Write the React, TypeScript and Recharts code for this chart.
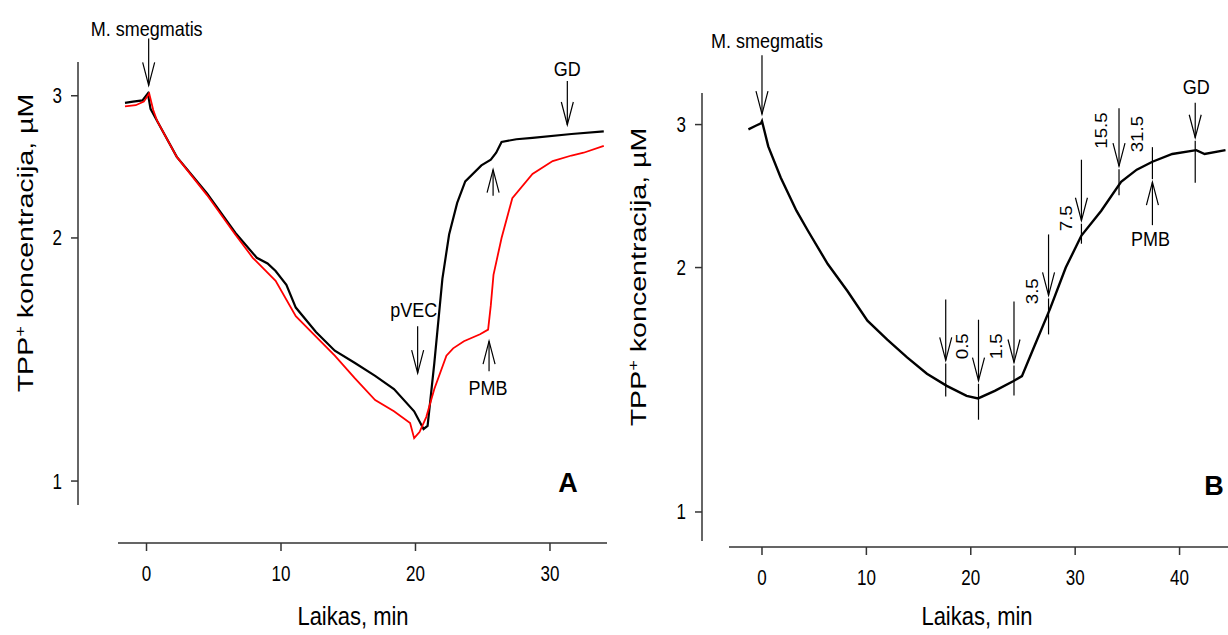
import { LineChart, Line, XAxis, YAxis, ReferenceDot, Label } from 'recharts';

const FONT = '"Liberation Sans", Arial, sans-serif';
const AXIS = '#333';

// A: black (pVEC) and red (pVEC + PMB) traces
const timeBlackA = [-1.6, -1.0, -0.3, 0.1, 0.3, 0.8, 2.25, 4.5, 6.6, 8.2, 9.0, 9.6, 10.4, 11.1, 12.6, 14.0, 15.5, 17.0, 18.4, 19.9, 20.6, 20.9, 21.4, 22.0, 22.5, 23.1, 23.7, 24.9, 25.6, 26.0, 26.4, 27.5, 28.7, 31.6, 34.0];
const concBlackA = [2.94, 2.95, 2.96, 3.02, 2.89, 2.79, 2.52, 2.27, 2.03, 1.89, 1.86, 1.82, 1.75, 1.64, 1.53, 1.45, 1.40, 1.35, 1.30, 1.22, 1.16, 1.17, 1.40, 1.78, 2.02, 2.21, 2.35, 2.46, 2.50, 2.55, 2.63, 2.65, 2.66, 2.69, 2.71];
const timeRedA = [-1.6, -0.8, -0.2, 0.2, 0.5, 0.8, 2.25, 4.5, 6.6, 7.9, 9.6, 11.1, 12.6, 14.0, 15.5, 17.0, 18.4, 19.6, 19.9, 20.3, 20.8, 21.4, 22.3, 22.8, 23.6, 24.8, 25.4, 25.6, 25.8, 26.4, 27.2, 28.7, 30.2, 31.6, 32.5, 34.0];
const concRedA = [2.91, 2.92, 2.95, 3.02, 2.88, 2.79, 2.52, 2.26, 2.02, 1.89, 1.77, 1.60, 1.51, 1.43, 1.34, 1.26, 1.22, 1.18, 1.13, 1.15, 1.20, 1.30, 1.43, 1.46, 1.49, 1.52, 1.54, 1.65, 1.80, 2.00, 2.24, 2.40, 2.49, 2.53, 2.55, 2.60];

// B: stepwise pVEC additions
const timeB = [-1.3, -0.6, -0.1, 0.0, 0.6, 1.8, 3.3, 4.4, 6.3, 8.2, 10.1, 12.0, 13.9, 15.8, 17.7, 19.6, 20.7, 22.3, 24.1, 24.9, 26.0, 27.6, 29.1, 30.6, 32.5, 34.4, 35.9, 37.4, 39.3, 41.6, 42.4, 44.4];
const concB = [2.96, 2.99, 3.01, 3.03, 2.82, 2.58, 2.35, 2.22, 2.02, 1.87, 1.72, 1.63, 1.55, 1.48, 1.43, 1.39, 1.38, 1.41, 1.45, 1.47, 1.59, 1.78, 2.00, 2.19, 2.35, 2.55, 2.64, 2.70, 2.76, 2.79, 2.76, 2.79];

const yTicks = [1, 2, 3];
const xTicksA = [0, 10, 20, 30];
const xTicksB = [0, 10, 20, 30, 40];

type Arrow = { t: number; v: number; dir: 'down' | 'up'; len: number; spike?: number; text?: string; dx?: number; dy?: number };

const arrowsA: Arrow[] = [
  { t: 0.16, v: 3.09, dir: 'down', len: 47, text: 'M. smegmatis', dx: -2, dy: -57 },
  { t: 20.16, v: 1.36, dir: 'down', len: 47, text: 'pVEC', dx: -4, dy: -63 },
  { t: 25.47, v: 1.49, dir: 'up', len: 30, text: 'PMB', dx: -1, dy: 47 },
  { t: 25.77, v: 2.43, dir: 'up', len: 26 },
  { t: 31.29, v: 2.76, dir: 'down', len: 44, text: 'GD', dy: -56 },
];

const arrowsB: Arrow[] = [
  { t: 0, v: 3.09, dir: 'down', len: 59, text: 'M. smegmatis', dx: 5, dy: -73 },
  { t: 17.6, v: 1.537, dir: 'down', len: 61, spike: 33 },
  { t: 20.74, v: 1.451, dir: 'down', len: 61, spike: 36 },
  { t: 24.14, v: 1.528, dir: 'down', len: 61, spike: 30 },
  { t: 27.45, v: 1.848, dir: 'down', len: 61, spike: 36 },
  { t: 30.6, v: 2.284, dir: 'down', len: 61, spike: 20 },
  { t: 34.2, v: 2.666, dir: 'down', len: 58, spike: 26 },
  { t: 37.4, v: 2.548, dir: 'up', len: 43, spike: 32, text: 'PMB', dx: -2, dy: 57 },
  { t: 41.5, v: 2.89, dir: 'down', len: 35, spike: 42, text: 'GD', dx: 1, dy: -51 },
];

// pVEC doses (µM) written beside the arrows in B
const doseLabels = ['0.5', '1.5', '3.5', '7.5', '15.5', '31.5'];
const doseTime = [19.2, 22.45, 25.9, 29.1, 32.5, 35.9];
const doseConc = [1.6, 1.6, 1.87, 2.3, 2.95, 2.92];

const zip = (ts: number[], vs: number[]) => ts.map((t, i) => ({ t, v: vs[i] }));

// the source figure is stretched vertically, so text is drawn scaled
function SText({ x, y, size, sx = 1, sy = 1, rot = 0, anchor = 'middle', weight, children }: any) {
  return (
    <g transform={`translate(${x} ${y}) rotate(${rot}) scale(${sx} ${sy})`}>
      <text x={0} y={0} dy="0.35em" textAnchor={anchor} fill="#000" stroke="none" fontSize={size} fontFamily={FONT} fontWeight={weight}>
        {children}
      </text>
    </g>
  );
}

const arrowShape = (a: Arrow) => (p: any) => {
  const { cx, cy } = p;
  const s = a.dir === 'down' ? -1 : 1;
  return (
    <g stroke="#000" strokeWidth={1.2} fill="none">
      <line x1={cx} y1={cy + s * a.len} x2={cx} y2={cy} />
      <polyline points={`${cx - 6},${cy + s * 23} ${cx},${cy} ${cx + 6},${cy + s * 23}`} />
      {a.spike ? <line x1={cx} y1={cy - s * 3} x2={cx} y2={cy - s * (3 + a.spike)} /> : null}
      {a.text ? (
        <SText x={cx + (a.dx || 0)} y={cy + (a.dy || 0)} size={18} sy={1.15}>{a.text}</SText>
      ) : null}
    </g>
  );
};

const doseShape = (label: string) => (p: any) => (
  <SText x={p.cx} y={p.cy} size={17} rot={-90} sx={1.1}>{label}</SText>
);

const xTick = (p: any) => (
  <SText x={p.x} y={p.y + 8.5} size={17} sy={1.25}>{p.payload.value}</SText>
);
const yTick = (p: any) => (
  <SText x={p.x} y={p.y} size={17} sy={1.25} anchor="end">{p.payload.value}</SText>
);

type Geo = {
  width: number; left: number; margin: { top: number; left: number; right: number; bottom: number };
  xDomain: [number, number]; yDomain: [number, number]; padX: number; padY: number; yLen: number;
  xTicks: number[]; yTitle: [number, number]; xTitle: [number, number]; letter: string; letterPos: [number, number];
};

const titles = (g: Geo) => () => (
  <g>
    <SText x={g.yTitle[0]} y={g.yTitle[1]} size={22} rot={-90} sx={1.3}>
      TPP<tspan dy="-8" fontSize={14}>+</tspan><tspan dy="8"> koncentracija, µM</tspan>
    </SText>
    <SText x={g.xTitle[0]} y={g.xTitle[1]} size={22} sy={1.18}>Laikas, min</SText>
    <SText x={g.letterPos[0]} y={g.letterPos[1]} size={27} weight="bold">{g.letter}</SText>
  </g>
);

function Panel({ g, children }: { g: Geo; children: React.ReactNode }) {
  return (
    <div style={{ position: 'absolute', left: g.left, top: 0 }}>
      <LineChart width={g.width} height={635} margin={g.margin}>
        <XAxis
          type="number" dataKey="t" domain={g.xDomain} allowDataOverflow ticks={g.xTicks} interval={0}
          height={40} padding={{ left: g.padX, right: 0 }} tickSize={8} tickMargin={14}
          axisLine={{ stroke: AXIS, strokeWidth: 1.5, strokeDasharray: `0 ${g.padX} 3000` }}
          tickLine={{ stroke: AXIS, strokeWidth: 1.5 }}
          tick={xTick}
        />
        <YAxis
          type="number" scale="log" domain={g.yDomain} allowDataOverflow ticks={yTicks} interval={0}
          width={60} padding={{ top: 0, bottom: g.padY }} tickSize={7} tickMargin={9}
          axisLine={{ stroke: AXIS, strokeWidth: 1.5, strokeDasharray: `${g.yLen} 3000` }}
          tickLine={{ stroke: AXIS, strokeWidth: 1.5 }}
          tick={yTick}
        >
          <Label content={titles(g)} />
        </YAxis>
        {children}
      </LineChart>
    </div>
  );
}

const geoA: Geo = {
  width: 620, left: 0, margin: { top: 62, left: 18, right: 13, bottom: 52 },
  xDomain: [-2.12, 34.24], yDomain: [0.934, 3.303], padX: 40, padY: 38, yLen: 443,
  xTicks: xTicksA, yTitle: [25, 243], xTitle: [353, 616], letter: 'A', letterPos: [568, 483],
};

const geoB: Geo = {
  width: 608, left: 620, margin: { top: 93, left: 22, right: 0, bottom: 48 },
  xDomain: [-3.16, 44.64], yDomain: [0.921, 3.281], padX: 27, padY: 6, yLen: 448,
  xTicks: xTicksB, yTitle: [18, 277], xTitle: [357, 616], letter: 'B', letterPos: [594, 486],
};

export default function App() {
  return (
    <div style={{ position: 'absolute', left: 0, top: 0, width: 1228, height: 635, background: '#fff', overflow: 'hidden' }}>
      <Panel g={geoA}>
        <Line data={zip(timeBlackA, concBlackA)} dataKey="v" type="linear" stroke="#000" strokeWidth={2.2} dot={false} isAnimationActive={false} />
        <Line data={zip(timeRedA, concRedA)} dataKey="v" type="linear" stroke="#ff0000" strokeWidth={1.8} dot={false} isAnimationActive={false} />
        {arrowsA.map((a, i) => (
          <ReferenceDot key={`a${i}`} x={a.t} y={a.v} r={1} ifOverflow="visible" shape={arrowShape(a)} />
        ))}
      </Panel>
      <Panel g={geoB}>
        <Line data={zip(timeB, concB)} dataKey="v" type="linear" stroke="#000" strokeWidth={2.4} dot={false} isAnimationActive={false} />
        {arrowsB.map((a, i) => (
          <ReferenceDot key={`b${i}`} x={a.t} y={a.v} r={1} ifOverflow="visible" shape={arrowShape(a)} />
        ))}
        {doseLabels.map((d, i) => (
          <ReferenceDot key={`d${i}`} x={doseTime[i]} y={doseConc[i]} r={1} ifOverflow="visible" shape={doseShape(d)} />
        ))}
      </Panel>
    </div>
  );
}
